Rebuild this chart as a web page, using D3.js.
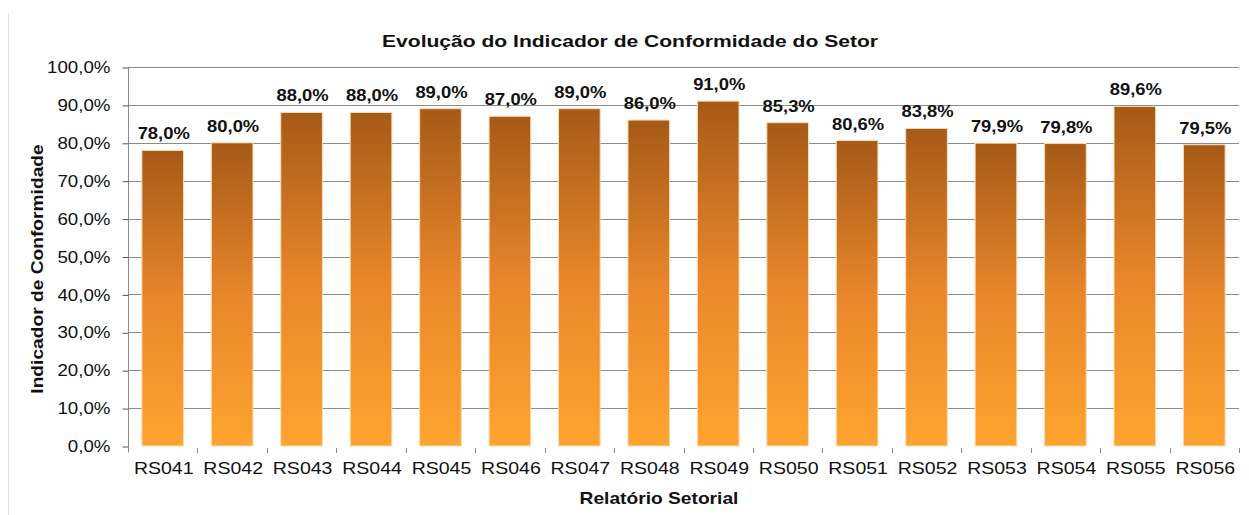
<!DOCTYPE html>
<html lang="pt">
<head>
	<meta charset="UTF-8">
	<title>Evolução do Indicador de Conformidade do Setor</title>
	<script src="https://cdn.jsdelivr.net/npm/d3@7"></script>
	<style>
		body { margin: 0; background: #fff; }
		text { font-family: Arial, "Liberation Sans", sans-serif; fill: #111; }
		.tick text { font-size: 16px; }
		.grid line { stroke: #8c8c8c; }
	</style>
</head>
<body>
	<div id="container"></div>
	<script>
		var width = 1249, height = 515;

		var reports = ["RS041", "RS042", "RS043", "RS044", "RS045", "RS046", "RS047", "RS048",
			"RS049", "RS050", "RS051", "RS052", "RS053", "RS054", "RS055", "RS056"];
		var conformity = [78.0, 80.0, 88.0, 88.0, 89.0, 87.0, 89.0, 86.0,
			91.0, 85.3, 80.6, 83.8, 79.9, 79.8, 89.6, 79.5];
		var yTicks = [0, 10, 20, 30, 40, 50, 60, 70, 80, 90, 100];

		var plot = { left: 128, right: 1239, top: 67, bottom: 446 };
		var stretch = 1.17; // the original text is a bit wider than plain Arial

		var fmt = function(v) { return d3.format(".1f")(v).replace(".", ",") + "%"; };

		var svg = d3.select("#container").append("svg")
			.attr("width", width)
			.attr("height", height);

		var grad = svg.append("defs").append("linearGradient")
			.attr("id", "barFill")
			.attr("x1", 0).attr("y1", 0).attr("x2", 0).attr("y2", 1);
		grad.append("stop").attr("offset", "0%").attr("stop-color", "#a65a17");
		grad.append("stop").attr("offset", "50%").attr("stop-color", "#e8862a");
		grad.append("stop").attr("offset", "100%").attr("stop-color", "#ffa42f");

		// light frame line on the left
		svg.append("line")
			.attr("x1", 8.5).attr("x2", 8.5)
			.attr("y1", 13).attr("y2", height)
			.attr("stroke", "#e2e2e2");

		var x = d3.scaleBand()
			.domain(reports)
			.range([plot.left, plot.right])
			.paddingInner(0.4)
			.paddingOuter(0.2);

		var y = d3.scaleLinear()
			.domain([0, 100])
			.range([plot.bottom, plot.top]);

		// gridlines
		svg.append("g")
			.attr("class", "grid")
			.selectAll("line")
			.data(yTicks.filter(function(d) { return d > 0; }))
			.enter().append("line")
				.attr("x1", plot.left).attr("x2", plot.right)
				.attr("y1", function(d) { return Math.round(y(d)) + 0.5; })
				.attr("y2", function(d) { return Math.round(y(d)) + 0.5; });

		// y axis
		var yAxis = svg.append("g")
			.attr("transform", "translate(" + (plot.left + 0.5) + ",0.5)")
			.call(d3.axisLeft(y).tickValues(yTicks).tickFormat(fmt).tickSizeOuter(0).tickSize(6).tickPadding(12));
		yAxis.select(".domain").attr("stroke", "#8c8c8c").attr("d", "M0," + (plot.top) + "V" + (plot.bottom + 6));
		yAxis.selectAll(".tick line").attr("stroke", "#555");
		yAxis.selectAll(".tick text")
			.attr("fill", "#111")
			.attr("x", -18 / stretch)
			.attr("transform", "scale(" + stretch + ",1)");

		// x axis: band boundary ticks only
		var bounds = reports.map(function(d) { return x(d) - x.step() * x.paddingInner() / 2; });
		bounds.push(plot.right);
		bounds.shift();
		svg.append("g").selectAll("line")
			.data(bounds)
			.enter().append("line")
				.attr("x1", function(d) { return Math.round(d) + 0.5; })
				.attr("x2", function(d) { return Math.round(d) + 0.5; })
				.attr("y1", plot.bottom + 2).attr("y2", plot.bottom + 7)
				.attr("stroke", "#888");

		svg.append("g").selectAll("text")
			.data(reports)
			.enter().append("text")
				.attr("transform", function(d) {
					return "translate(" + (x(d) + x.bandwidth() / 2 + 1) + ",474) scale(1.22,1)";
				})
				.attr("text-anchor", "middle")
				.style("font-size", "16px")
				.text(function(d) { return d; });

		// bars
		svg.append("g").selectAll("rect")
			.data(conformity)
			.enter().append("rect")
				.attr("x", function(d, i) { return x(reports[i]); })
				.attr("y", function(d) { return y(d); })
				.attr("width", x.bandwidth())
				.attr("height", function(d) { return y(0) - y(d); })
				.attr("fill", "url(#barFill)")
				.attr("stroke", "#f9dcb6")
				.attr("stroke-width", 1);

		// value labels
		svg.append("g").selectAll("text")
			.data(conformity)
			.enter().append("text")
				.attr("transform", function(d, i) {
					return "translate(" + (x(reports[i]) + x.bandwidth() / 2 + 1) + "," + (y(d) - 11) + ") scale(1.15,1)";
				})
				.attr("text-anchor", "middle")
				.style("font-size", "16px")
				.style("font-weight", "bold")
				.text(fmt);

		// titles
		svg.append("text")
			.attr("transform", "translate(630,47) scale(1.24,1)")
			.attr("text-anchor", "middle")
			.style("font-size", "17px")
			.style("font-weight", "bold")
			.text("Evolução do Indicador de Conformidade do Setor");

		svg.append("text")
			.attr("transform", "translate(43,269) rotate(-90) scale(1.2,1)")
			.attr("text-anchor", "middle")
			.style("font-size", "16px")
			.style("font-weight", "bold")
			.text("Indicador de Conformidade");

		svg.append("text")
			.attr("transform", "translate(659,504) scale(1.2,1)")
			.attr("text-anchor", "middle")
			.style("font-size", "16px")
			.style("font-weight", "bold")
			.text("Relatório Setorial");
	</script>
</body>
</html>
